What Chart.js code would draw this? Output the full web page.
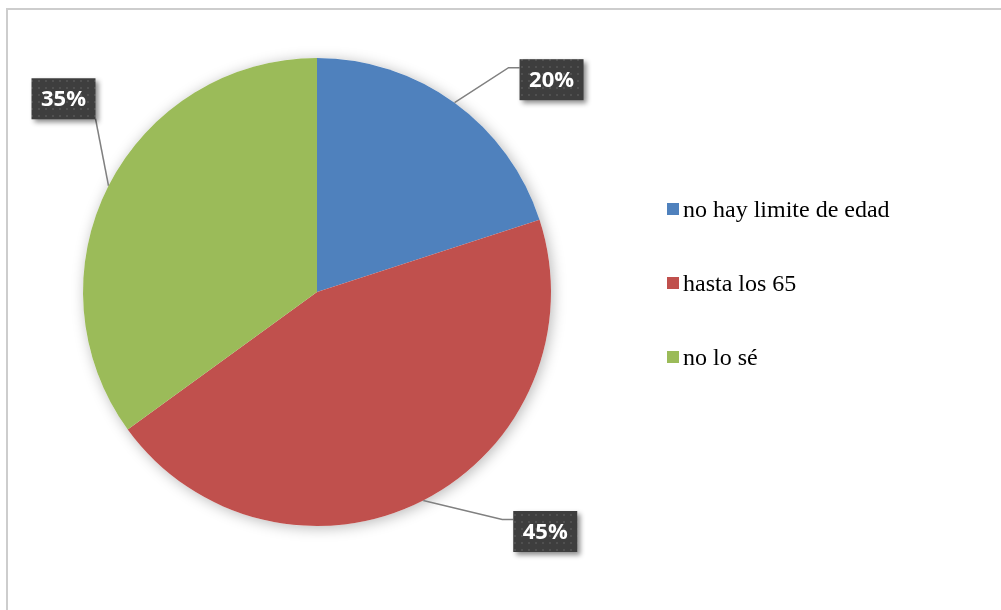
<!DOCTYPE html>
<html>
<head>
<meta charset="utf-8">
<script src="https://cdn.jsdelivr.net/npm/chart.js@4.4.0/dist/chart.umd.min.js"></script>
<style>
    html, body { margin: 0; padding: 0; background: #fff; overflow: hidden; }
    #frame { position: absolute; left: 6px; top: 8px; width: 1020px; height: 640px; border: 2px solid #cdcdcd; box-sizing: border-box; }
    #wrap { position: absolute; left: 0; top: 0; width: 1001px; height: 610px; }
</style>
</head>
<body>
<div id="frame"></div>
<div id="wrap"><canvas id="pieChart" width="1001" height="610"></canvas></div>
<script>
const categories = ['no hay limite de edad', 'hasta los 65', 'no lo sé'];
const percentages = [20, 45, 35];
const sliceColors = ['#4f81bd', '#c0504d', '#9bbb59'];

document.addEventListener('DOMContentLoaded', () => {
    const ctx = document.getElementById('pieChart').getContext('2d');

    // little dotted texture for the label boxes
    const tile = document.createElement('canvas');
    tile.width = 7; tile.height = 7;
    const t = tile.getContext('2d');
    t.fillStyle = '#3e3e3e';
    t.fillRect(0, 0, 7, 7);
    t.fillStyle = '#505050';
    t.fillRect(3, 3, 2, 2);
    const boxPattern = ctx.createPattern(tile, 'repeat');

    // soft shadow behind the whole pie
    const pieShadow = {
        id: 'pieShadow',
        beforeDatasetsDraw(chart) {
            const arc = chart.getDatasetMeta(0).data[0];
            if (!arc) return;
            const c = chart.ctx;
            c.save();
            c.shadowColor = 'rgba(0,0,0,0.28)';
            c.shadowBlur = 14;
            c.shadowOffsetX = 2;
            c.shadowOffsetY = 2;
            c.fillStyle = '#ffffff';
            c.beginPath();
            c.arc(arc.x, arc.y, arc.outerRadius, 0, Math.PI * 2);
            c.fill();
            c.restore();
        }
    };

    // percentage callouts with leader lines
    const callouts = {
        id: 'callouts',
        afterDatasetsDraw(chart, args, opts) {
            const c = chart.ctx;
            const meta = chart.getDatasetMeta(0);
            meta.data.forEach((arc, i) => {
                const mid = (arc.startAngle + arc.endAngle) / 2;
                const ex = arc.x + Math.cos(mid) * arc.outerRadius;
                const ey = arc.y + Math.sin(mid) * arc.outerRadius;
                const o = opts.offsets[i];
                const bw = opts.boxWidth, bh = opts.boxHeight;
                const bx = ex + o.box[0] - bw / 2;
                const by = ey + o.box[1] - bh / 2;
                const elx = ex + o.elbow[0];
                const ely = ey + o.elbow[1];
                const ax = Math.min(Math.max(elx, bx), bx + bw);
                const ay = Math.min(Math.max(ely, by), by + bh);

                c.save();
                c.strokeStyle = '#808080';
                c.lineWidth = 1.5;
                c.beginPath();
                c.moveTo(ex, ey);
                c.lineTo(elx, ely);
                c.lineTo(ax, ay);
                c.stroke();

                c.shadowColor = 'rgba(0,0,0,0.45)';
                c.shadowBlur = 5;
                c.shadowOffsetX = 3;
                c.shadowOffsetY = 3;
                c.fillStyle = boxPattern;
                c.fillRect(bx, by, bw, bh);
                c.shadowColor = 'transparent';

                c.fillStyle = '#ffffff';
                c.font = 'bold 22px "Open Sans", sans-serif';
                c.textAlign = 'center';
                c.textBaseline = 'middle';
                c.fillText(percentages[i] + '%', bx + bw / 2, by + bh / 2 + 1);
                c.restore();
            });
        }
    };

    // legend on the right, drawn from the chart's own labels/colours
    const sideLegend = {
        id: 'sideLegend',
        afterDraw(chart, args, opts) {
            const c = chart.ctx;
            const ds = chart.data.datasets[0];
            c.save();
            c.font = '24px "Liberation Serif", "Times New Roman", serif';
            c.textBaseline = 'alphabetic';
            c.textAlign = 'left';
            chart.data.labels.forEach((label, i) => {
                const y = opts.top + i * opts.rowGap;
                c.fillStyle = ds.backgroundColor[i];
                c.fillRect(opts.left, y, 12, 12);
                c.fillStyle = '#000000';
                c.fillText(label, opts.left + 16, y + 14);
            });
            c.restore();
        }
    };

    new Chart(ctx, {
        type: 'pie',
        data: {
            labels: categories,
            datasets: [{
                data: percentages,
                backgroundColor: sliceColors,
                borderWidth: 0
            }]
        },
        options: {
            responsive: false,
            animation: false,
            layout: { padding: { left: 83, top: 58, right: 450, bottom: 84 } },
            plugins: {
                legend: { display: false },
                tooltip: { enabled: false },
                callouts: {
                    boxWidth: 64,
                    boxHeight: 41,
                    offsets: [
                        { box: [97, -23], elbow: [54, -35] },
                        { box: [122, 31], elbow: [79, 19] },
                        { box: [-45, -87], elbow: [-13, -67] }
                    ]
                },
                sideLegend: { left: 667, top: 203, rowGap: 74 }
            }
        },
        plugins: [pieShadow, callouts, sideLegend]
    });
});
</script>
</body>
</html>
